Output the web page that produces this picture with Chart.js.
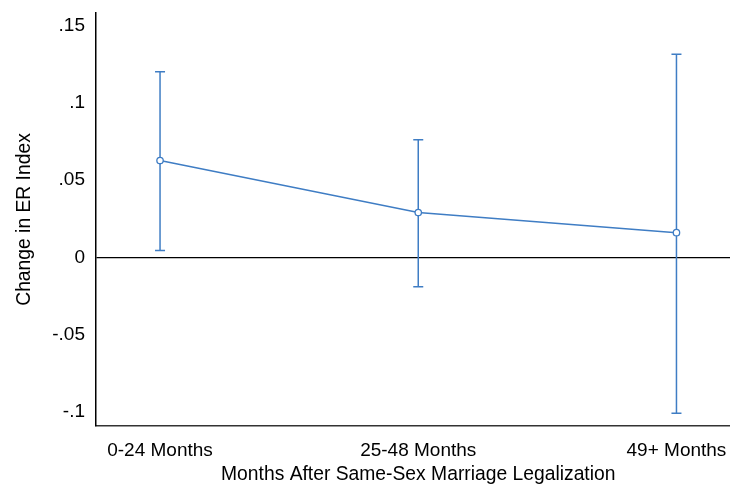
<!DOCTYPE html>
<html>
<head>
<meta charset="utf-8">
<script src="https://cdn.jsdelivr.net/npm/chart.js@4"></script>
<style>
  html, body { margin: 0; padding: 0; background: #fff; overflow: hidden; }
  /* plot region runs a little past the right edge of the window, as in the original */
  #wrap { width: 747px; height: 486px; }
</style>
</head>
<body>
<div id="wrap"><canvas id="erChart"></canvas></div>
<script>
// Event-study style estimates with 95% CIs
const categories = ['0-24 Months', '25-48 Months', '49+ Months'];
const estimates = [0.0626, 0.029, 0.016];
const ciLower = [0.0044, -0.019, -0.1008];
const ciUpper = [0.120, 0.076, 0.1314];
const yTicks = [-0.1, -0.05, 0, 0.05, 0.1, 0.15];

const blue = '#3f7dc4';
const fontFam = 'Liberation Sans, Arial, sans-serif';

function fmtTick(v) {
    if (Math.abs(v) < 1e-9) return '0';
    let s = String(+v.toFixed(2));
    return s.replace('0.', '.');
}

const ciSets = categories.map((c, i) => ({
    label: 'CI ' + c,
    data: [{ x: i, y: ciLower[i] }, { x: i, y: ciUpper[i] }],
    showLine: true,
    borderColor: blue,
    borderWidth: 1.5,
    pointStyle: 'line',
    pointRadius: 5,
    pointBorderColor: blue,
    pointBorderWidth: 1.5
}));

new Chart(document.getElementById('erChart'), {
    type: 'scatter',
    data: {
        datasets: [
            {
                label: 'Estimate',
                data: estimates.map((v, i) => ({ x: i, y: v })),
                showLine: true,
                borderColor: blue,
                borderWidth: 1.5,
                pointRadius: 3.2,
                pointBackgroundColor: '#fff',
                pointBorderColor: blue,
                pointBorderWidth: 1.3
            },
            ...ciSets
        ]
    },
    options: {
        responsive: true,
        maintainAspectRatio: false,
        animation: false,
        layout: { padding: { top: 13, right: 0, left: 0, bottom: 0 } },
        plugins: {
            legend: { display: false },
            tooltip: { enabled: false }
        },
        scales: {
            x: {
                type: 'linear',
                min: -0.248,
                max: 2.248,
                afterBuildTicks: function(scale) {
                    scale.ticks = categories.map((c, i) => ({ value: i }));
                },
                afterFit: function(scale) {
                    scale.height = 60;
                    scale.paddingLeft = 0;
                    scale.paddingRight = 0;
                },
                grid: { display: false, drawTicks: false },
                border: { color: '#333', width: 1.5 },
                ticks: {
                    color: '#000',
                    padding: 13,
                    maxRotation: 0,
                    font: { family: fontFam, size: 19 },
                    callback: function(v) { return categories[v]; }
                },
                title: {
                    display: true,
                    text: 'Months After Same-Sex Marriage Legalization',
                    color: '#000',
                    padding: { top: 0, bottom: 0 },
                    font: { family: fontFam, size: 19.3 }
                }
            },
            y: {
                min: -0.109,
                max: 0.158,
                afterBuildTicks: function(scale) {
                    scale.ticks = yTicks.map(v => ({ value: v }));
                },
                afterFit: function(scale) {
                    scale.width = 96;
                    scale.paddingTop = 0;
                    scale.paddingBottom = 0;
                },
                grid: {
                    drawTicks: false,
                    lineWidth: 1.3,
                    color: function(ctx) {
                        return ctx.tick && Math.abs(ctx.tick.value) < 1e-9 ? '#000' : 'rgba(0,0,0,0)';
                    }
                },
                border: { color: '#000', width: 1.5 },
                ticks: {
                    color: '#000',
                    padding: 11,
                    font: { family: fontFam, size: 19 },
                    callback: fmtTick
                },
                title: {
                    display: true,
                    text: 'Change in ER Index',
                    color: '#000',
                    padding: { top: 13, bottom: 0 },
                    font: { family: fontFam, size: 19.3 }
                }
            }
        }
    }
});
</script>
</body>
</html>
